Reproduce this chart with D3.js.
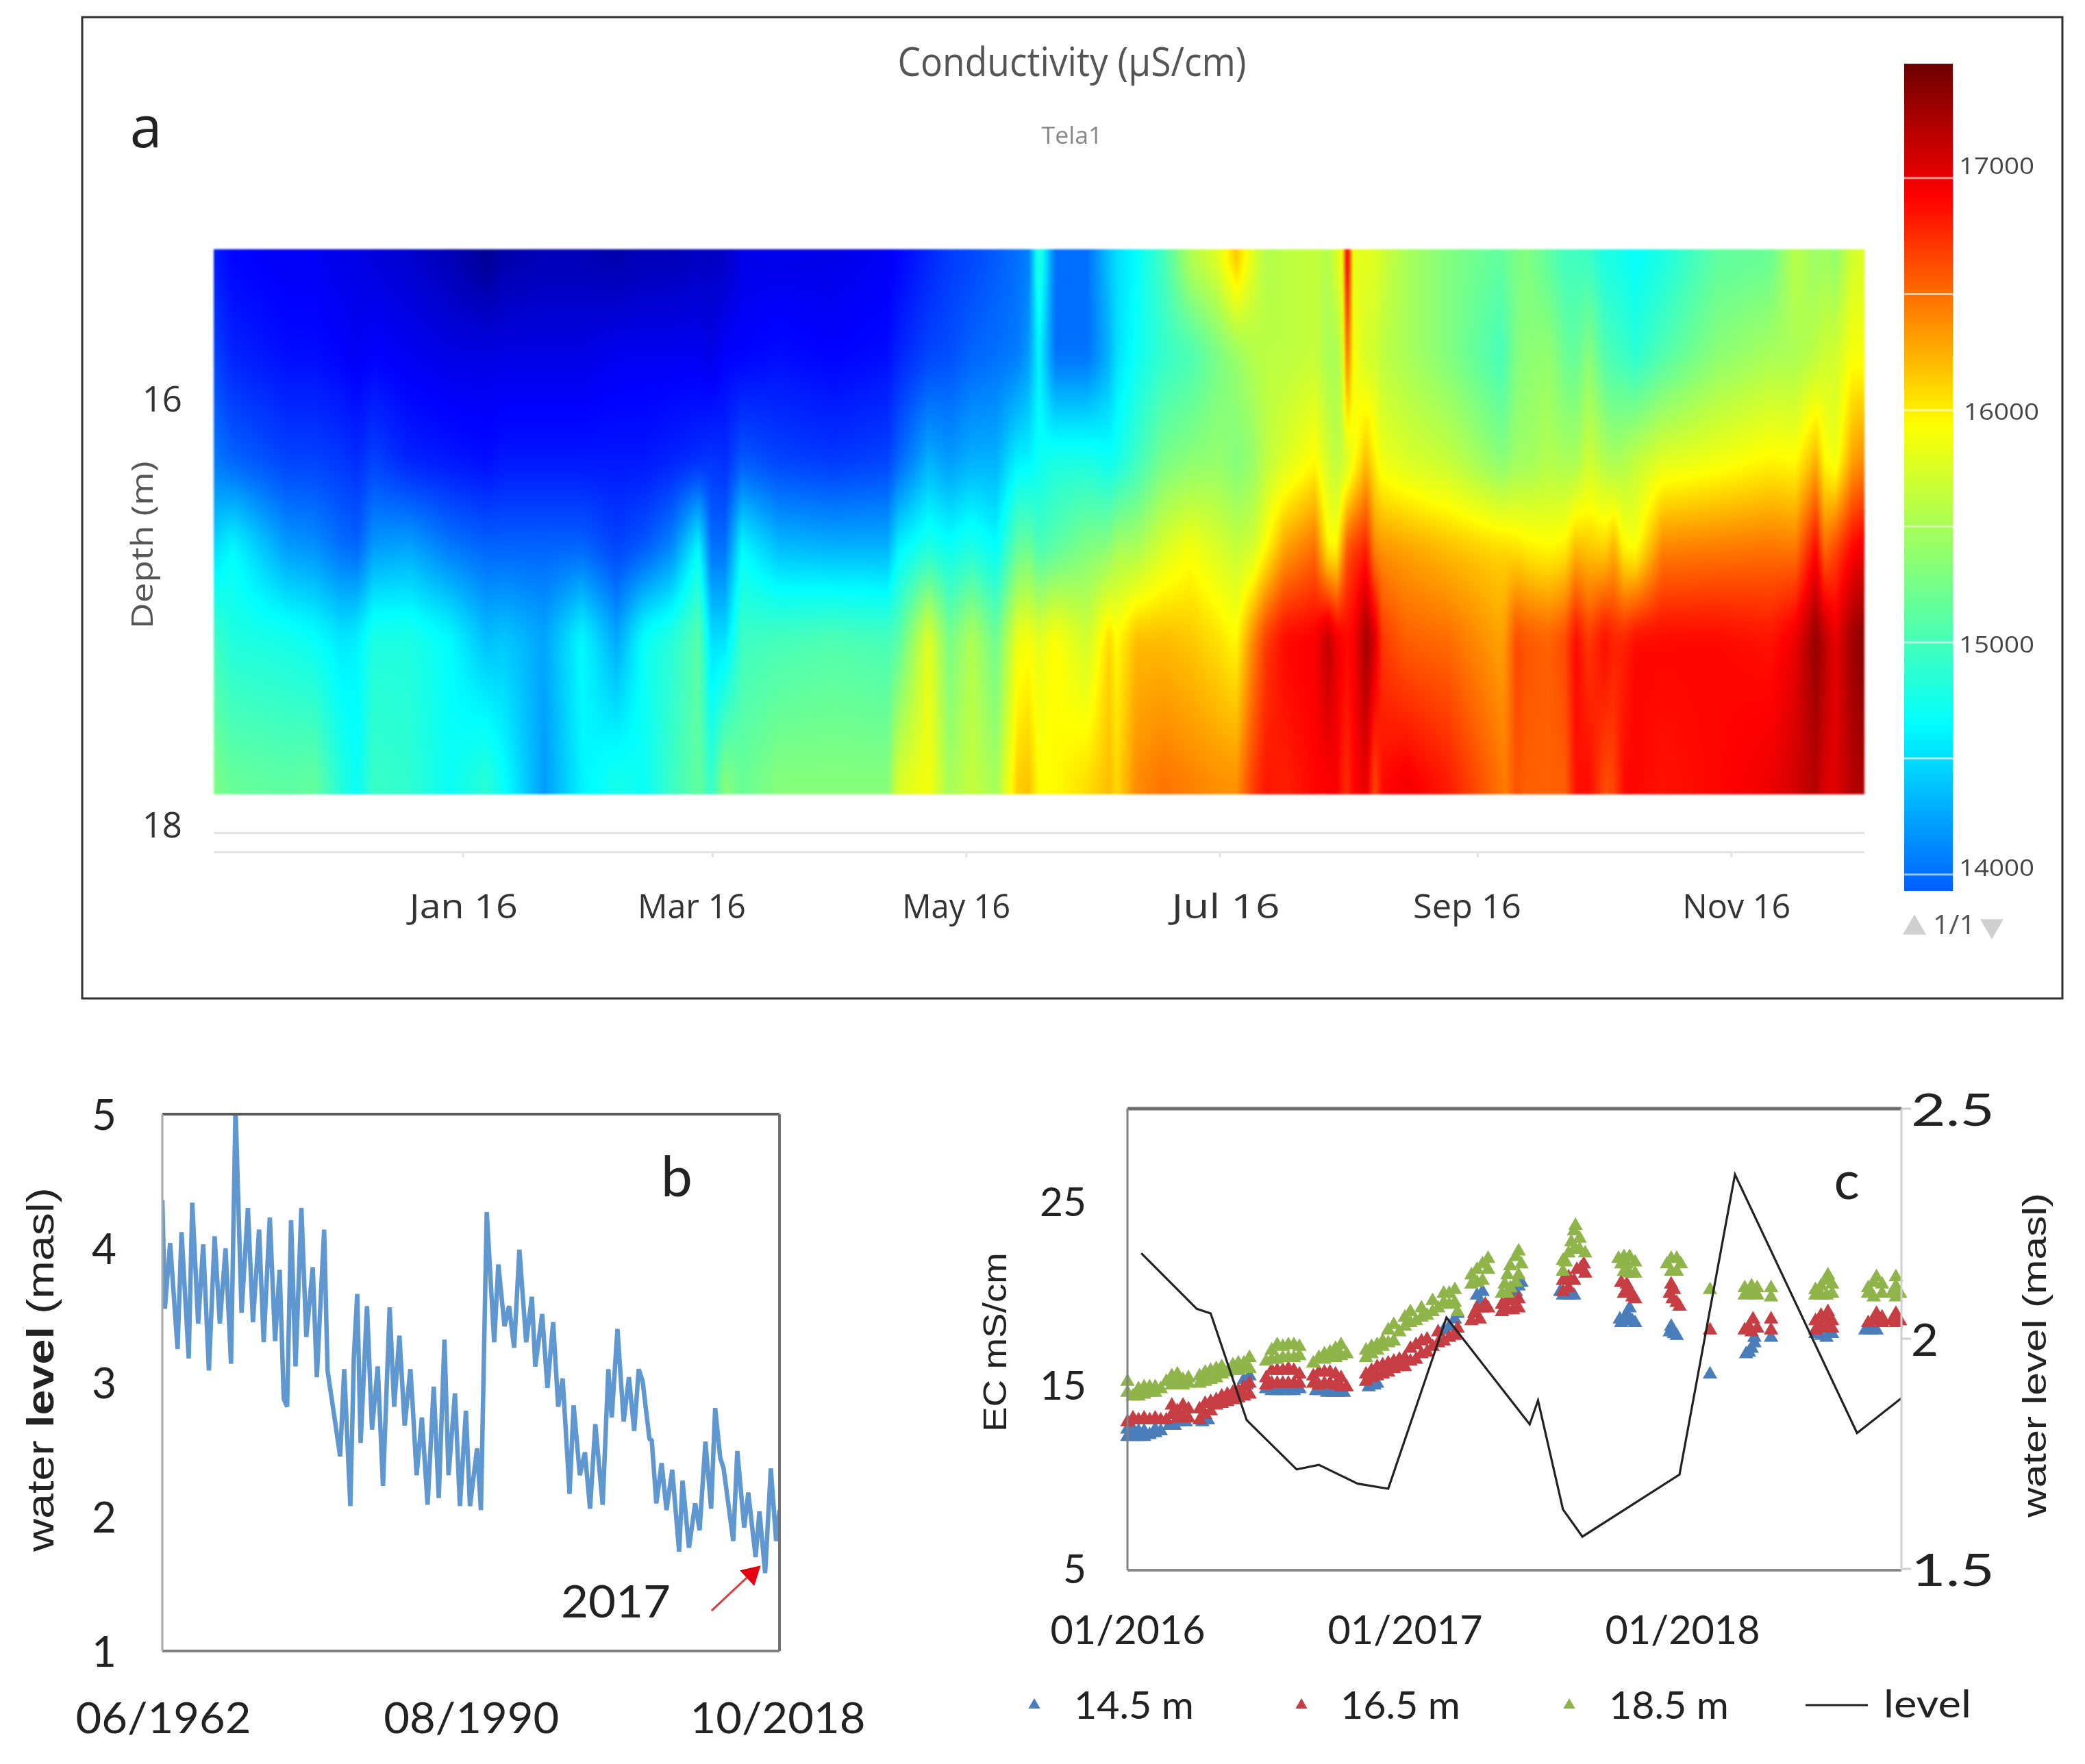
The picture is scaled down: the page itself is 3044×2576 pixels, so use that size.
<!DOCTYPE html>
<html><head><meta charset="utf-8">
<script src="https://cdn.jsdelivr.net/npm/d3@7"></script>
<style>
html,body{margin:0;padding:0;background:#fff}
#wrap{position:relative;width:3044px;height:2576px;overflow:hidden;filter:blur(0.7px)}
canvas{position:absolute;filter:blur(1.6px)}
svg{position:absolute;left:0;top:0}
</style></head><body><div id="wrap"><canvas id="heat"></canvas><svg id="chart" width="3044" height="2576"></svg></div>
<script>
// ---------- Panel a: conductivity (uS/cm), days since 2 Nov 2015 at six depths
const heatDays=[0,4.6,17.6,24,30.6,34.4,38.4,46.8,56.7,65.7,69.7,79.4,88.5,96.9,103.5,109.9,116.5,119.6,122.9,126.9,135.9,148.9,161.9,164.6,171.8,176.9,182.2,188,193.2,195.9,198.4,202.3,210,215.3,217.1,221.8,228.3,234.8,241.4,245.8,249.8,253,257.5,264.7,268,270,271.3,272.5,274.1,277.1,279.1,281,286.8,296.7,309.2,310.5,313.2,315.8,320.9,324.9,327.5,330.6,334.6,336.6,339.2,341.8,348.3,361.3,374.3,380.2,385.3,387.3,389.9,393.9,397];
const heatDepths=[15.30,15.80,16.30,16.70,17.12,17.86];
const heatD153=[13600,13500,13450,13450,13400,13400,13350,13300,13200,13050,13150,13200,13200,13150,13200,13200,13250,13250,13250,13400,13400,13400,13450,13500,13650,13750,13800,13900,14000,14050,14900,14000,14000,14400,14500,14650,15000,15600,15850,16250,15800,15550,15600,15650,15550,15800,15900,17100,15800,15800,15800,15700,15500,15300,15150,15200,15250,15300,15100,14950,14950,14900,14750,14750,14700,14650,14750,15100,15150,15600,15400,15450,15350,15700,15750];
const heatD158=[13800,13650,13550,13550,13500,13450,13500,13450,13400,13400,13400,13400,13400,13450,13450,13450,13450,13400,13500,13500,13550,13500,13550,13650,13800,13850,13950,14000,14050,14200,14600,14000,14000,14300,14500,14700,14900,15000,15250,15400,15550,15600,15600,15650,15500,15500,15700,16500,15900,15700,15700,15600,15500,15300,15000,15050,15300,15350,15400,15200,15150,15350,15050,15000,14950,14850,15050,15350,15500,15500,15600,15700,15700,15900,15900];
const heatD163=[14050,13950,13800,13800,13750,13700,13800,13650,13600,13550,13600,13600,13600,13600,13600,13650,13700,13750,13700,13900,13800,13750,13800,13950,14300,14200,14300,14300,14600,14600,14700,14800,14800,14700,14750,14950,15250,15350,15400,15300,15400,15600,15750,15950,15700,15600,15650,15700,15900,16200,16000,15850,15750,15650,15350,15350,15450,15450,15550,15500,15500,15700,15550,15500,15550,15650,15800,15880,15980,15950,16250,15950,15850,16300,16400];
const heatD167=[14500,14650,14200,14150,14000,13950,14200,14250,14050,13950,13950,13950,13950,13800,13900,14100,14650,14000,14000,14650,14350,14300,14300,14600,14800,14700,14800,14650,15150,15200,15000,15100,15300,15350,15500,15500,15750,15900,15750,15650,15700,15950,16300,16500,15950,15950,16300,16600,16700,16800,16400,16350,16300,16200,16100,16100,16050,16000,15950,16000,16200,16150,16100,16250,15950,15900,16420,16450,16480,16450,16900,16500,16650,16900,17000];
const heatD171=[14950,14800,14750,14680,14550,14600,14800,14800,14650,14350,14400,14250,14650,14250,14700,14850,15100,14500,14500,14950,15000,15050,15000,15100,15800,15250,15550,15200,15850,15900,15800,15950,15700,16100,15950,16200,16200,16150,16050,15950,16400,16700,16900,16950,17200,17000,16950,16900,16950,17300,17100,16700,16550,16500,16300,16350,16650,16600,16550,16650,16900,16700,16900,16800,16800,16900,16900,16900,16850,17000,17350,17200,17000,17300,17400];
const heatD179=[15300,15200,15150,15200,14850,14700,14950,14900,14700,14900,14700,14200,14600,14800,14700,14950,15150,14950,15400,15200,15350,15350,15350,15800,15900,15500,15650,15500,16150,16200,15950,15950,16100,16200,16100,16400,16500,16450,16400,16400,16700,16850,16800,16900,16900,16950,16800,16750,16900,17000,16600,16900,17000,16850,16500,16450,16600,16550,16550,16550,16850,16900,16600,16650,16900,16900,16850,16900,17000,17100,17200,17050,17050,17200,17250];
const cbLabels=[14000,15000,16000,17000];
const heatMonths=["Jan 16","Mar 16","May 16","Jul 16","Sep 16","Nov 16"];
const heatMonthDates=[new Date(2016,0,1),new Date(2016,2,1),new Date(2016,4,1),new Date(2016,6,1),new Date(2016,8,1),new Date(2016,10,1)];
const depthTicks=[16,18];
const colorStops=[13000,13500,14650,15295,15940,16920,17490];
const colorValues=["#000080","#0000ff","#00ffff","#80ff80","#ffff00","#ff0000","#6e0000"];

// ---------- Panel b: long-term water level, decimal year / masl
const wlYears=[1962.42,1962.65,1963.13,1963.81,1964.17,1964.83,1965.15,1965.69,1966.15,1966.67,1967.19,1967.67,1968.19,1968.69,1969.10,1969.65,1970.23,1970.69,1971.25,1971.67,1972.23,1972.71,1973.13,1973.50,1973.81,1974.17,1974.58,1975.11,1975.56,1976.15,1976.52,1977.19,1977.50,1978.65,1979.02,1979.58,1979.90,1980.21,1980.52,1981.10,1981.56,1982.08,1982.56,1983.17,1983.58,1984.06,1984.54,1985.06,1985.27,1985.63,1986.11,1986.63,1987.19,1987.65,1988.17,1988.54,1989.13,1989.58,1990.13,1990.50,1991.15,1991.50,1992.03,1992.71,1993.09,1993.65,1994.07,1994.53,1995.01,1995.63,1996.15,1996.46,1997.09,1997.57,1998.09,1998.55,1998.96,1999.59,1999.96,2000.53,2000.99,2001.46,2001.94,2002.61,2003.13,2003.44,2003.96,2004.53,2005.01,2005.49,2005.90,2006.26,2006.88,2007.09,2007.51,2007.99,2008.44,2008.96,2009.59,2009.90,2010.49,2011.05,2011.46,2011.99,2012.51,2012.88,2013.34,2013.65,2014.53,2014.90,2015.53,2015.90,2016.57,2016.92,2017.44,2017.96,2018.44,2018.75];
const wlValues=[4.36,3.55,4.04,3.25,4.12,3.18,4.34,3.44,4.03,3.09,4.09,3.44,4.00,3.14,5.05,3.52,4.30,3.45,4.14,3.30,4.23,3.31,3.84,2.88,2.82,4.21,3.12,4.30,3.34,3.86,3.04,4.14,3.09,2.45,3.10,2.08,3.19,3.66,2.55,3.57,2.65,3.12,2.23,3.56,2.82,3.35,2.68,3.10,2.83,2.31,2.74,2.09,2.97,2.14,3.32,2.31,2.92,2.08,2.79,2.08,2.51,2.05,4.27,3.30,3.88,3.42,3.57,3.26,3.99,3.30,3.64,3.12,3.51,2.96,3.45,2.82,3.03,2.17,2.83,2.31,2.48,2.06,2.69,2.09,3.10,2.74,3.40,2.71,3.04,2.64,3.10,3.01,2.58,2.57,2.10,2.40,2.05,2.35,1.74,2.27,1.77,2.10,1.90,2.56,2.06,2.81,2.44,2.36,1.82,2.49,1.92,2.18,1.70,2.04,1.58,2.36,1.82,2.05];
const wlYTicks=[1,2,3,4,5];
const wlXTicks=[1962.42,1990.6,2018.75];
const wlXLabels=["06/1962","08/1990","10/2018"];

// ---------- Panel c: EC (mS/cm) at three depths and water level
const ec145=[[2016.00,12.6],[2016.00,12.2],[2016.02,12.2],[2016.02,12.6],[2016.04,12.2],[2016.04,12.5],[2016.06,12.2],[2016.06,12.5],[2016.08,12.3],[2016.10,12.4],[2016.10,12.6],[2016.12,12.5],[2016.15,12.8],[2016.17,12.8],[2016.19,13.0],[2016.21,13.0],[2016.27,13.0],[2016.29,13.1],[2016.42,15.3],[2016.43,15.0],[2016.44,15.5],[2016.50,14.8],[2016.52,14.7],[2016.54,14.7],[2016.56,14.7],[2016.58,14.7],[2016.60,14.7],[2016.62,14.8],[2016.68,14.7],[2016.70,14.7],[2016.72,14.6],[2016.74,14.6],[2016.76,14.6],[2016.78,14.6],[2016.87,14.9],[2016.89,15.0],[2016.90,15.1],[2017.14,18.0],[2017.16,18.2],[2017.18,18.6],[2017.19,18.9],[2017.26,19.9],[2017.28,20.1],[2017.27,19.5],[2017.38,19.9],[2017.40,20.1],[2017.41,20.4],[2017.42,20.6],[2017.56,20.1],[2017.57,19.9],[2017.59,19.9],[2017.61,19.9],[2017.775,18.6],[2017.78,18.4],[2017.80,18.5],[2017.80,18.9],[2017.81,19.2],[2017.82,18.5],[2017.83,18.4],[2017.96,18.2],[2017.955,17.9],[2017.97,17.8],[2017.98,17.7],[2018.10,15.6],[2018.23,16.7],[2018.24,16.8],[2018.25,17.0],[2018.26,17.3],[2018.26,17.6],[2018.32,17.6],[2018.48,17.8],[2018.50,17.7],[2018.52,17.6],[2018.54,17.8],[2018.66,18.0],[2018.68,18.0],[2018.70,18.0]];
const ec165=[[2016.00,13.0],[2016.02,13.2],[2016.04,13.1],[2016.06,13.2],[2016.08,13.1],[2016.10,13.2],[2016.12,13.1],[2016.14,13.1],[2016.16,13.4],[2016.16,13.9],[2016.18,13.2],[2016.18,13.6],[2016.20,13.3],[2016.20,13.9],[2016.22,13.2],[2016.22,13.7],[2016.26,13.1],[2016.26,13.7],[2016.28,13.4],[2016.28,14.0],[2016.30,13.6],[2016.30,14.1],[2016.32,13.9],[2016.32,14.2],[2016.34,14.0],[2016.34,14.4],[2016.36,14.1],[2016.36,14.5],[2016.38,14.2],[2016.38,14.6],[2016.40,14.3],[2016.40,14.7],[2016.42,14.4],[2016.42,14.9],[2016.44,14.5],[2016.44,15.1],[2016.50,15.0],[2016.50,15.4],[2016.52,15.1],[2016.52,15.8],[2016.54,15.1],[2016.54,15.8],[2016.56,15.1],[2016.56,15.8],[2016.58,15.1],[2016.58,15.9],[2016.60,15.1],[2016.60,15.8],[2016.62,15.1],[2016.62,15.6],[2016.67,15.1],[2016.67,15.5],[2016.69,15.0],[2016.69,15.7],[2016.71,15.1],[2016.71,15.7],[2016.73,15.1],[2016.73,15.7],[2016.75,15.0],[2016.75,15.6],[2016.77,14.9],[2016.77,15.4],[2016.79,14.9],[2016.86,15.2],[2016.86,15.6],[2016.88,15.4],[2016.88,15.8],[2016.90,15.5],[2016.90,16.0],[2016.92,15.6],[2016.92,16.1],[2016.94,15.7],[2016.94,16.2],[2016.96,15.9],[2016.96,16.3],[2016.98,16.0],[2016.98,16.4],[2017.00,16.0],[2017.00,16.5],[2017.02,16.3],[2017.02,17.0],[2017.04,16.4],[2017.04,17.2],[2017.06,16.7],[2017.06,17.4],[2017.08,16.8],[2017.08,17.5],[2017.10,17.1],[2017.12,17.3],[2017.12,17.9],[2017.14,17.4],[2017.16,17.6],[2017.18,17.7],[2017.19,18.1],[2017.24,18.5],[2017.25,18.9],[2017.26,19.2],[2017.27,18.6],[2017.28,19.2],[2017.29,19.4],[2017.30,19.2],[2017.35,19.0],[2017.35,19.4],[2017.37,19.1],[2017.37,19.6],[2017.39,19.1],[2017.39,19.6],[2017.41,19.2],[2017.41,19.7],[2017.57,20.1],[2017.57,20.7],[2017.59,20.3],[2017.59,20.9],[2017.61,20.7],[2017.62,21.3],[2017.635,21.4],[2017.645,21.6],[2017.65,21.1],[2017.78,20.6],[2017.79,20.0],[2017.80,20.5],[2017.81,20.2],[2017.82,19.8],[2017.83,19.7],[2017.955,20.0],[2017.96,20.5],[2017.965,19.7],[2017.97,20.2],[2017.98,19.5],[2017.99,19.3],[2018.10,18.0],[2018.225,18.0],[2018.24,18.2],[2018.25,17.9],[2018.255,18.6],[2018.27,18.1],[2018.32,18.0],[2018.32,18.6],[2018.48,18.0],[2018.48,18.5],[2018.50,18.2],[2018.50,18.8],[2018.52,18.1],[2018.52,18.6],[2018.525,19.0],[2018.54,18.1],[2018.54,18.5],[2018.67,18.4],[2018.69,18.5],[2018.70,18.9],[2018.72,18.4],[2018.72,18.7],[2018.755,18.5],[2018.77,18.4],[2018.77,18.9],[2018.785,18.5]];
const ec185=[[2016.00,15.2],[2016.00,14.6],[2016.02,14.4],[2016.04,14.8],[2016.04,14.4],[2016.06,14.9],[2016.06,14.5],[2016.08,14.9],[2016.08,14.6],[2016.10,14.9],[2016.10,14.6],[2016.12,14.8],[2016.14,15.2],[2016.16,15.0],[2016.16,15.5],[2016.18,15.1],[2016.18,15.6],[2016.20,15.3],[2016.20,15.0],[2016.22,15.4],[2016.22,15.1],[2016.26,15.1],[2016.26,15.5],[2016.28,15.2],[2016.28,15.7],[2016.30,15.3],[2016.30,15.8],[2016.32,15.4],[2016.32,15.9],[2016.34,15.6],[2016.34,16.0],[2016.36,15.7],[2016.38,15.8],[2016.38,16.1],[2016.40,15.8],[2016.40,16.2],[2016.42,15.9],[2016.42,16.2],[2016.44,15.9],[2016.44,16.5],[2016.50,16.3],[2016.52,16.4],[2016.52,16.9],[2016.54,16.4],[2016.54,17.2],[2016.56,16.5],[2016.56,17.1],[2016.58,16.5],[2016.58,17.2],[2016.60,16.5],[2016.60,17.2],[2016.62,16.6],[2016.62,17.1],[2016.67,16.2],[2016.69,16.5],[2016.71,16.4],[2016.71,16.7],[2016.73,16.5],[2016.73,16.8],[2016.75,16.5],[2016.75,17.0],[2016.77,16.6],[2016.77,17.2],[2016.79,16.7],[2016.86,16.5],[2016.86,16.9],[2016.88,16.7],[2016.88,17.1],[2016.90,16.9],[2016.90,17.2],[2016.92,17.1],[2016.92,17.4],[2016.94,17.3],[2016.94,18.0],[2016.96,17.4],[2016.96,18.3],[2016.98,17.9],[2017.00,18.2],[2017.00,18.7],[2017.02,18.4],[2017.02,19.0],[2017.04,18.5],[2017.06,18.7],[2017.06,19.2],[2017.08,18.8],[2017.10,19.0],[2017.10,19.6],[2017.12,19.2],[2017.14,19.5],[2017.14,20.0],[2017.16,19.4],[2017.16,20.0],[2017.18,19.5],[2017.18,20.2],[2017.19,19.0],[2017.24,20.5],[2017.24,21.0],[2017.26,20.6],[2017.26,21.3],[2017.28,20.7],[2017.28,21.6],[2017.30,21.3],[2017.30,21.9],[2017.35,20.0],[2017.36,20.5],[2017.37,20.0],[2017.37,21.0],[2017.38,20.3],[2017.38,21.5],[2017.40,20.6],[2017.40,22.0],[2017.41,21.0],[2017.41,22.3],[2017.42,21.6],[2017.57,21.2],[2017.57,21.8],[2017.58,21.7],[2017.59,22.2],[2017.60,22.8],[2017.61,23.4],[2017.61,22.4],[2017.615,23.7],[2017.63,23.0],[2017.63,22.4],[2017.65,22.2],[2017.77,21.9],[2017.78,21.6],[2017.79,22.0],[2017.79,21.2],[2017.80,21.6],[2017.81,22.0],[2017.81,21.1],[2017.83,21.7],[2017.83,21.1],[2017.945,21.6],[2017.96,21.9],[2017.96,21.2],[2017.98,21.9],[2017.98,21.2],[2017.995,21.6],[2018.10,20.2],[2018.225,19.9],[2018.225,20.3],[2018.25,20.0],[2018.25,20.4],[2018.27,19.9],[2018.27,20.3],[2018.32,19.8],[2018.32,20.3],[2018.48,19.9],[2018.48,20.2],[2018.50,19.9],[2018.50,20.4],[2018.52,19.9],[2018.52,20.7],[2018.525,21.0],[2018.54,20.0],[2018.54,20.5],[2018.67,20.0],[2018.67,20.3],[2018.69,19.8],[2018.69,20.6],[2018.70,20.9],[2018.72,20.0],[2018.72,20.5],[2018.755,20.0],[2018.77,19.8],[2018.77,20.4],[2018.77,20.9],[2018.785,20.0]];
const levelYears=[2016.05,2016.25,2016.30,2016.43,2016.61,2016.69,2016.83,2016.94,2017.15,2017.45,2017.48,2017.57,2017.64,2017.99,2018.19,2018.63,2018.79];
const levelValues=[2.186,2.065,2.055,1.823,1.716,1.726,1.685,1.674,2.046,1.814,1.866,1.629,1.570,1.705,2.357,1.795,1.871];
const ecTicks=[5,15,25];
const levelTicks=[1.5,2,2.5];
const ecXTicks=[2016,2017,2018];
const ecXLabels=["01/2016","01/2017","01/2018"];
const legendNames=["14.5 m","16.5 m","18.5 m","level"];

// ---------- drawing
const svg=d3.select("#chart");
const SERIF="Lato, Carlito, sans-serif", SEGOE="'Open Sans', sans-serif", ARIAL="'Liberation Sans', Arial, sans-serif";
function txt(p,t,x,y,o={}){
  const e=p.append("text").attr("x",x).attr("y",y).attr("dy",".35em").text(t)
   .attr("font-family",o.font||SERIF).attr("font-size",o.size||50).attr("fill",o.fill||"#222")
   .attr("text-anchor",o.anchor||"middle");
  if(o.len) e.attr("textLength",o.len).attr("lengthAdjust","spacingAndGlyphs");
  if(o.rot!=null) e.attr("transform",`rotate(${o.rot} ${x} ${y})`);
  return e;
}
function styleAxis(g,o){
  g.select(".domain").remove();
  g.selectAll(".tick line").remove();
  g.selectAll("text").attr("font-family",o.font||SERIF).attr("font-size",o.size).attr("fill",o.fill||"#222");
  if(o.len) g.selectAll("text").attr("textLength",o.len).attr("lengthAdjust","spacingAndGlyphs");
  if(o.dy) g.selectAll("text").attr("dy",o.dy);
}

// Panel a
svg.append("rect").attr("x",120).attr("y",25).attr("width",2891).attr("height",1433).attr("fill","none").attr("stroke","#2f2f2f").attr("stroke-width",3);
const t0=new Date(2015,10,2), t1=new Date(2016,11,3);
const hx=d3.scaleTime().domain([t0,t1]).range([312,2722]);
const hy=d3.scaleLinear().domain([16,18]).range([582,1204]);
const heatColor=d3.scaleLinear().domain(colorStops).range(colorValues).clamp(true);
const heatRows=[heatD153,heatD158,heatD163,heatD167,heatD171,heatD179];
const heatDates=heatDays.map(d=>+t0+d*864e5);
(function(){
  const x0=312,x1=2722,y0=hy(heatDepths[0]),y1=hy(heatDepths[5]);
  const W=x1-x0,H=Math.round(y1-y0);
  const cv=d3.select("#heat").attr("width",W).attr("height",H).style("left",x0+"px").style("top",Math.round(y0)+"px").node();
  const ctx=cv.getContext("2d"),img=ctx.createImageData(W,H);
  const bis=d3.bisector(d=>d).right;
  const vals=new Float32Array(W*H);
  for(let j=0;j<H;j++){
    const dep=hy.invert(y0+j);
    let r=Math.min(Math.max(bis(heatDepths,dep)-1,0),heatDepths.length-2);
    const fy=(dep-heatDepths[r])/(heatDepths[r+1]-heatDepths[r]);
    for(let i=0;i<W;i++){
      const t=+hx.invert(x0+i);
      let c=Math.min(Math.max(bis(heatDates,t)-1,0),heatDates.length-2);
      const fx=(t-heatDates[c])/(heatDates[c+1]-heatDates[c]);
      const a=heatRows[r][c]*(1-fx)+heatRows[r][c+1]*fx;
      const b=heatRows[r+1][c]*(1-fx)+heatRows[r+1][c+1]*fx;
      vals[j*W+i]=a*(1-fy)+b*fy;
    }
  }
  // vertical smoothing between the depth rows
  const R=22,tmp=new Float32Array(H+1);
  for(let pass=0;pass<2;pass++){
    for(let i=0;i<W;i++){
      tmp[0]=0;for(let j=0;j<H;j++)tmp[j+1]=tmp[j]+vals[j*W+i];
      for(let j=0;j<H;j++){
        const a=Math.max(0,j-R),b=Math.min(H,j+R+1);
        vals[j*W+i]=(tmp[b]-tmp[a])/(b-a);
      }
    }
  }
  for(let k=0;k<W*H;k++){
    const col=d3.rgb(heatColor(vals[k]));
    img.data[k*4]=col.r;img.data[k*4+1]=col.g;img.data[k*4+2]=col.b;img.data[k*4+3]=255;
  }
  ctx.putImageData(img,0,0);
})();
txt(svg,"Conductivity (µS/cm)",1565,91,{font:SEGOE,size:58,fill:"#555",len:509});
txt(svg,"Tela1",1565,198,{font:SEGOE,size:34,fill:"#888",len:89});
txt(svg,"a",213,186,{font:SEGOE,size:84,fill:"#222"});
txt(svg,"Depth (m)",208,796,{font:SEGOE,size:44,fill:"#555",len:245,rot:-90});
const hyAxis=svg.append("g").attr("transform","translate(266,0)").call(d3.axisLeft(hy).tickValues(depthTicks).tickFormat(d3.format("d")).tickSize(0).tickPadding(0));
styleAxis(hyAxis,{font:SEGOE,size:51,fill:"#333",dy:".36em"});
// gridlines + month ticks below the heatmap
svg.selectAll("line.hg").data([18.04,18.13]).join("line").attr("x1",312).attr("x2",2722).attr("y1",d=>hy(d)).attr("y2",d=>hy(d)).attr("stroke","#e3e3e3").attr("stroke-width",3);
svg.selectAll("line.hm").data(heatMonthDates).join("line").attr("x1",d=>hx(d)).attr("x2",d=>hx(d)).attr("y1",1244).attr("y2",1252).attr("stroke","#e3e3e3").attr("stroke-width",3);
const labelShift=[0,-31,-15,8,-16,7];
const hxAxis=svg.append("g").attr("transform","translate(0,1244)").call(d3.axisBottom(hx).tickValues(heatMonthDates).tickFormat((d,i)=>heatMonths[i]).tickSize(0).tickPadding(61));
styleAxis(hxAxis,{font:SEGOE,size:50,fill:"#333",len:158});
hxAxis.selectAll("text").attr("dx",(d,i)=>labelShift[i]);
// colour bar
const cb=d3.scaleLinear().domain([14000,17000]).range([1277,260]);
const grad=svg.append("defs").append("linearGradient").attr("id","cbg").attr("x1",0).attr("x2",0).attr("y1",1).attr("y2",0);
const cbMin=cb.invert(1301),cbMax=cb.invert(93);
d3.range(0,1.0001,0.02).forEach(f=>{const v=cbMin+(cbMax-cbMin)*f;grad.append("stop").attr("offset",f).attr("stop-color",heatColor(v));});
svg.append("rect").attr("x",2780).attr("y",cb(cbMax)).attr("width",71).attr("height",cb(cbMin)-cb(cbMax)).attr("fill","url(#cbg)");
svg.selectAll("line.cbl").data(d3.range(14000,17001,500)).join("line").attr("x1",2780).attr("x2",2851).attr("y1",d=>cb(d)).attr("y2",d=>cb(d)).attr("stroke","#fff").attr("stroke-opacity",.6).attr("stroke-width",3);
const cbLift={14000:9,15000:-4,16000:-3,17000:17};
svg.append("g").selectAll("text").data(cbLabels).join("text").text(d=>d)
  .attr("x",d=>d===16000?2867:2860).attr("y",d=>cb(d)-cbLift[d]).attr("dy",".35em")
  .attr("font-family",SEGOE).attr("font-size",32).attr("fill","#444").attr("textLength",110).attr("lengthAdjust","spacingAndGlyphs");
const tri=d3.symbol().type(d3.symbolTriangle).size(500);
svg.append("path").attr("d",tri()).attr("transform","translate(2795,1355)").attr("fill","#cfcfcf");
svg.append("path").attr("d",tri()).attr("transform","translate(2908,1352) rotate(180)").attr("fill","#cfcfcf");
txt(svg,"1/1",2853,1351,{font:SEGOE,size:38,fill:"#555",len:62});

// Panel b
const bx=d3.scaleLinear().domain([1962.42,2018.75]).range([237,1138]);
const by=d3.scaleLinear().domain([1,5]).range([2411,1627]);
svg.append("clipPath").attr("id","bclip").append("rect").attr("x",237).attr("y",1627).attr("width",901).attr("height",784);
svg.append("path").attr("d",d3.line().x((d,i)=>bx(wlYears[i])).y(d=>by(d))(wlValues)).attr("fill","none").attr("stroke","#5f97d0").attr("stroke-width",6.5).attr("stroke-linejoin","bevel").attr("clip-path","url(#bclip)");
[[237,1627,1138,1627,"#5a5a5a",4],[1138,1627,1138,2411,"#707070",4],[237,2411,1138,2411,"#808080",4],[237,1627,237,2411,"#a8a8a8",3]].forEach(l=>svg.append("line").attr("x1",l[0]).attr("y1",l[1]).attr("x2",l[2]).attr("y2",l[3]).attr("stroke",l[4]).attr("stroke-width",l[5]));
const byAxis=svg.append("g").attr("transform","translate(170,0)").call(d3.axisLeft(by).tickValues(wlYTicks).tickFormat(d3.format("d")).tickSize(0).tickPadding(0));
styleAxis(byAxis,{size:62,fill:"#222",len:36,dy:".36em"});
const bxAxis=svg.append("g").attr("transform","translate(0,2411)").call(d3.axisBottom(bx).tickValues(wlXTicks).tickFormat((d,i)=>wlXLabels[i]).tickSize(0).tickPadding(76));
styleAxis(bxAxis,{size:62,fill:"#222",len:256});
bxAxis.selectAll("text").attr("dx",(d,i)=>i===0?1:i===2?-3:0);
const wlt=txt(svg,"",58,2000,{font:ARIAL,size:56,fill:"#222",rot:-90,len:532});
wlt.append("tspan").text("water ");wlt.append("tspan").attr("font-weight","bold").text("level");wlt.append("tspan").text(" (masl)");
txt(svg,"b",988,1718,{size:82,fill:"#222"});
txt(svg,"2017",899,2339,{size:66,fill:"#222",len:160});
// 2017 arrow
const aFrom=[2012.55,1.30],aTo=[2016.95,1.63];
const ax0=bx(aFrom[0]),ay0=by(aFrom[1]),ax1=bx(aTo[0]),ay1=by(aTo[1]);
svg.append("line").attr("x1",ax0).attr("y1",ay0).attr("x2",ax1-10).attr("y2",ay1+8).attr("stroke","#e03a3a").attr("stroke-width",3);
svg.append("path").attr("d",d3.symbol().type(d3.symbolTriangle).size(420)()).attr("fill","#e5000f")
  .attr("transform",`translate(${ax1-12},${ay1+11}) rotate(${Math.atan2(ay1-ay0,ax1-ax0)*180/Math.PI+90})`);

// Panel c
const cx=d3.scaleLinear().domain([2016,2018.79]).range([1646,2776]);
const cy=d3.scaleLinear().domain([5,30]).range([2291,1621]);
const cy2=d3.scaleLinear().domain([1.5,2.5]).range([2291,1619]);
const ecSym=d3.symbol().type(d3.symbolTriangle).size(150);
[[ec145,"#4a7ebb"],[ec165,"#c63e43"],[ec185,"#8fb54a"]].forEach(([s,c])=>{
  svg.append("g").selectAll("path").data(s).join("path").attr("d",ecSym()).attr("fill",c).attr("stroke",c).attr("stroke-width",1.5).attr("transform",d=>`translate(${cx(d[0])},${cy(d[1])})`);
});
svg.append("path").attr("d",d3.line().x((d,i)=>cx(levelYears[i])).y(d=>cy2(d))(levelValues)).attr("fill","none").attr("stroke","#222").attr("stroke-width",3.2);
[[1646,1619,2776,1619,"#6e6e6e",5],[1646,1619,1646,2293,"#808080",3],[1646,2293,2776,2293,"#8a8a8a",4],[2776,1619,2776,2293,"#cfcfcf",3]].forEach(l=>svg.append("line").attr("x1",l[0]).attr("y1",l[1]).attr("x2",l[2]).attr("y2",l[3]).attr("stroke",l[4]).attr("stroke-width",l[5]));
svg.selectAll("line.rt").data(levelTicks).join("line").attr("x1",2776).attr("x2",2790).attr("y1",d=>cy2(d)).attr("y2",d=>cy2(d)).attr("stroke","#cfcfcf").attr("stroke-width",3);
const cyAxis=svg.append("g").attr("transform","translate(1586,0)").call(d3.axisLeft(cy).tickValues(ecTicks).tickFormat(d3.format("d")).tickSize(0).tickPadding(0));
styleAxis(cyAxis,{size:58,fill:"#222",dy:".36em"});
cyAxis.selectAll("text").attr("textLength",d=>d===5?34:68).attr("lengthAdjust","spacingAndGlyphs");
const cy2Axis=svg.append("g").attr("transform","translate(2782,0)").call(d3.axisRight(cy2).tickValues(levelTicks).tickFormat(d=>d).tickSize(0).tickPadding(8));
styleAxis(cy2Axis,{size:66,fill:"#222",dy:".37em"});
cy2Axis.selectAll("text").attr("textLength",d=>d===2?40:122).attr("lengthAdjust","spacingAndGlyphs");
const cxAxis=svg.append("g").attr("transform","translate(0,2293)").call(d3.axisBottom(cx).tickValues(ecXTicks).tickFormat((d,i)=>ecXLabels[i]).tickSize(0).tickPadding(67));
styleAxis(cxAxis,{size:58,fill:"#222",len:226});
txt(svg,"EC mS/cm",1452,1960,{font:ARIAL,size:48,fill:"#222",rot:-90,len:262});
txt(svg,"water level (masl)",2970,1979,{font:ARIAL,size:48,fill:"#222",rot:-90,len:474});
txt(svg,"c",2696,1724,{size:78,fill:"#222"});
const legSym=d3.symbol().type(d3.symbolTriangle).size(130);
[[1510,1568,"#4a7ebb",175],[1900,1957,"#c63e43",175],[2291,2349,"#8fb54a",175]].forEach((l,i)=>{
  svg.append("path").attr("d",legSym()).attr("transform",`translate(${l[0]},2490)`).attr("fill",l[2]);
  txt(svg,legendNames[i],l[1],2490,{size:56,anchor:"start",len:l[3]});
});
svg.append("line").attr("x1",2636).attr("x2",2727).attr("y1",2490).attr("y2",2490).attr("stroke","#222").attr("stroke-width",3.2);
txt(svg,legendNames[3],2750,2488,{size:56,anchor:"start",len:128});
</script></body></html>
